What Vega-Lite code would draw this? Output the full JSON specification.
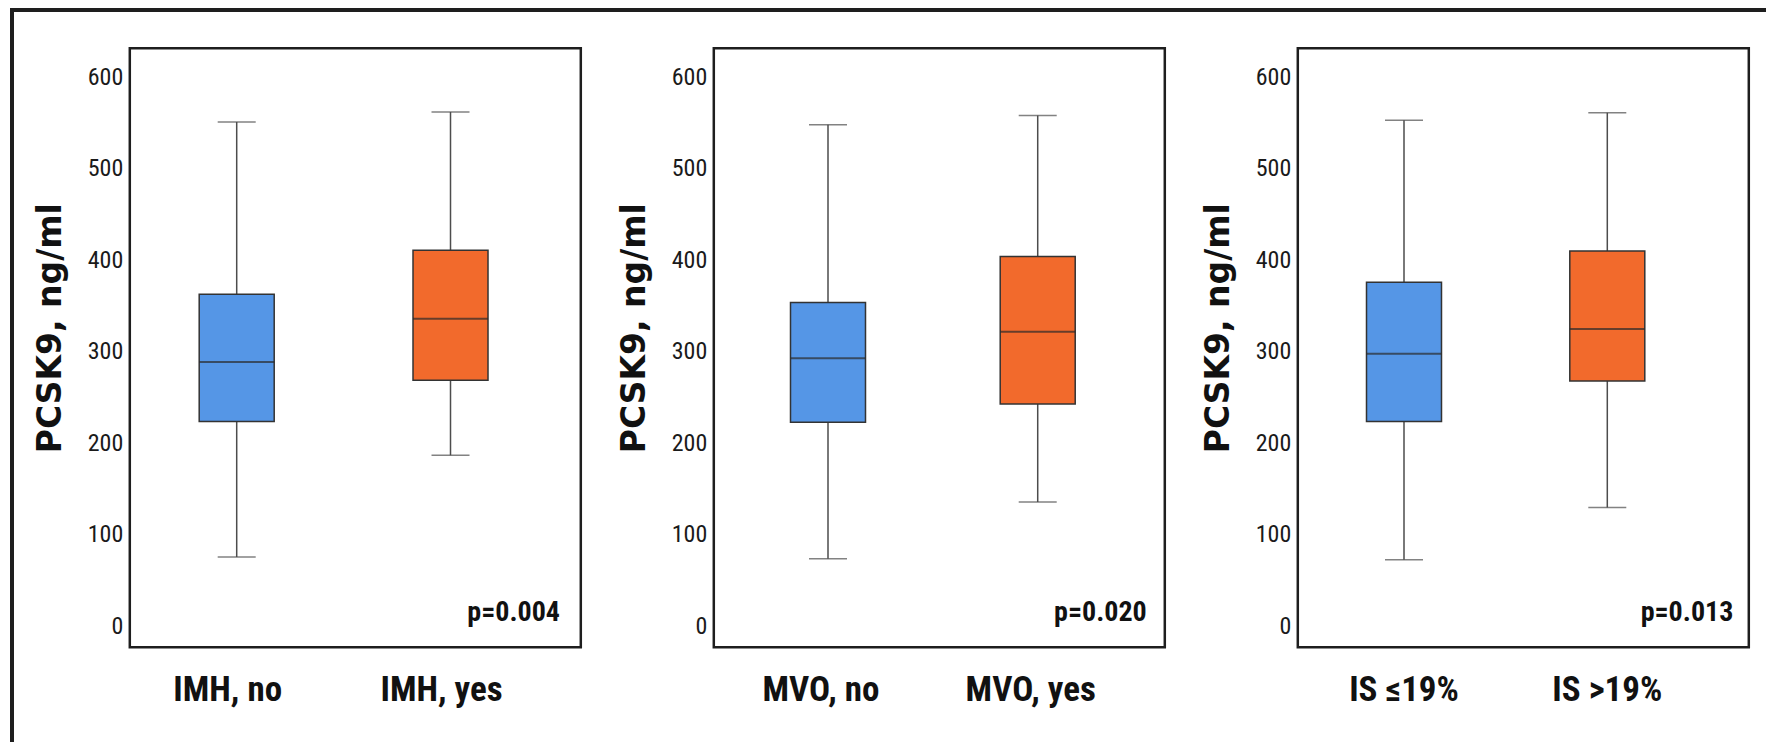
{
  "$schema": "https://vega.github.io/schema/vega-lite/v6.json",
  "padding": {"left": 9.5, "top": 7.5, "right": 0, "bottom": 0},
  "autosize": {"type": "pad"},
  "background": "white",
  "config": {
    "view": {"stroke": "#1e1e1e", "strokeWidth": 2.5},
    "axisY": {"domain": false, "ticks": false, "tickSize": 0, "grid": false, "labelFont": "Roboto Condensed, Liberation Sans Narrow, Roboto", "labelFontSize": 24, "labelColor": "#1a1a1a", "labelPadding": 7, "titleFont": "DejaVu Sans", "titleFontSize": 33, "titleFontWeight": "bold", "titleColor": "#111111", "titleAlign": "center", "titleBaseline": "middle", "titleAngle": -90},
    "axisX": {"domain": false, "ticks": false, "tickSize": 0, "grid": false, "labelAngle": 0, "labelFont": "Roboto Condensed, Liberation Sans Narrow, Roboto", "labelFontSize": 35, "labelFontWeight": "bold", "labelColor": "#111111", "labelPadding": 25.5}
  },
  "datasets": {
    "boxes": [
      {"panel": 1, "group": "IMH, no", "status": "no", "lo": 76, "q1": 224, "median": 289, "q3": 363, "hi": 551, "p": ""},
      {"panel": 1, "group": "IMH, yes", "status": "yes", "lo": 187, "q1": 269, "median": 336, "q3": 411, "hi": 562, "p": "p=0.004"},
      {"panel": 2, "group": "MVO, no", "status": "no", "lo": 74, "q1": 223, "median": 293, "q3": 354, "hi": 548, "p": ""},
      {"panel": 2, "group": "MVO, yes", "status": "yes", "lo": 136, "q1": 243, "median": 322, "q3": 404, "hi": 558, "p": "p=0.020"},
      {"panel": 3, "group": "IS ≤19%", "status": "no", "lo": 73, "q1": 224, "median": 298, "q3": 376, "hi": 553, "p": ""},
      {"panel": 3, "group": "IS >19%", "status": "yes", "lo": 130, "q1": 268, "median": 325, "q3": 410, "hi": 561, "p": "p=0.013"}
    ]
  },
  "spacing": 0,
  "bounds": "flush",
  "hconcat": [
    {
      "width": 1, "height": 731.5,
      "data": {"values": [{}]},
      "mark": {"type": "rule", "opacity": 0},
      "encoding": {},
      "view": {"stroke": "#1e1e1e", "strokeWidth": 3}
    },
    {
      "spacing": 37.7,
      "bounds": "flush",
      "vconcat": [
        {
          "width": 1752.5, "height": 1,
          "data": {"values": [{}]},
          "mark": {"type": "rule", "opacity": 0},
          "encoding": {},
          "view": {"stroke": "#1e1e1e", "strokeWidth": 3}
        },
        {
          "spacing": 116.3,
          "bounds": "flush",
          "hconcat": [
            {
              "width": 1, "height": 1,
              "data": {"values": [{}]},
              "mark": {"type": "rule", "opacity": 0},
              "encoding": {},
              "view": {"stroke": null}
            },
            {
              "spacing": 133,
              "bounds": "flush",
              "resolve": {"scale": {"x": "independent", "y": "independent", "color": "independent"}},
              "hconcat": [
                {
                  "width": 451, "height": 599,
                  "data": {"name": "boxes"},
                  "transform": [{"filter": "datum.panel === 1"}],
                  "encoding": {
                    "x": {"field": "group", "type": "nominal", "sort": null, "title": null, "axis": {"labelOffset": -9}, "scale": {"paddingInner": 0, "paddingOuter": 0.0547, "align": 0}}
                  },
                  "layer": [
                    {"mark": {"type": "rule", "stroke": "#4d4d4d", "strokeWidth": 1.5},
                     "encoding": {"y": {"field": "lo", "type": "quantitative", "title": "PCSK9, ng/ml", "scale": {"domain": [-22.6, 631.6], "nice": false, "zero": false}, "axis": {"values": [0, 100, 200, 300, 400, 500, 600], "titleX": -79.5, "titleY": 279.5}}, "y2": {"field": "hi"}}},
                    {"mark": {"type": "tick", "color": "#4d4d4d", "size": 38, "thickness": 1.5},
                     "encoding": {"y": {"field": "hi", "type": "quantitative", "title": "PCSK9, ng/ml"}}},
                    {"mark": {"type": "tick", "color": "#4d4d4d", "size": 38, "thickness": 1.5},
                     "encoding": {"y": {"field": "lo", "type": "quantitative", "title": "PCSK9, ng/ml"}}},
                    {"mark": {"type": "bar", "width": 75, "stroke": "#333333", "strokeWidth": 1.5},
                     "encoding": {"y": {"field": "q1", "type": "quantitative", "title": "PCSK9, ng/ml"}, "y2": {"field": "q3"},
                       "color": {"field": "status", "type": "nominal", "scale": {"domain": ["no", "yes"], "range": ["#5596E6", "#F26A2C"]}, "legend": null}}},
                    {"mark": {"type": "tick", "color": "#2b2b2b", "size": 75, "thickness": 2},
                     "encoding": {"y": {"field": "median", "type": "quantitative", "title": "PCSK9, ng/ml"}}},
                    {"mark": {"type": "text", "align": "right", "baseline": "alphabetic", "font": "Roboto Condensed, Liberation Sans Narrow, Roboto", "fontSize": 28, "fontWeight": "bold", "color": "#111111"},
                     "encoding": {"x": {"field": "group", "type": "nominal", "sort": null, "bandPosition": 1.012}, "y": {"datum": 6.5, "type": "quantitative"}, "text": {"field": "p"}}}
                  ]
                },
                {
                  "width": 451, "height": 599,
                  "data": {"name": "boxes"},
                  "transform": [{"filter": "datum.panel === 2"}],
                  "encoding": {
                    "x": {"field": "group", "type": "nominal", "sort": null, "title": null, "axis": {"labelOffset": -7}, "scale": {"paddingInner": 0, "paddingOuter": 0.0753, "align": 0.296}}
                  },
                  "layer": [
                    {"mark": {"type": "rule", "stroke": "#4d4d4d", "strokeWidth": 1.5},
                     "encoding": {"y": {"field": "lo", "type": "quantitative", "title": "PCSK9, ng/ml", "scale": {"domain": [-22.6, 631.6], "nice": false, "zero": false}, "axis": {"values": [0, 100, 200, 300, 400, 500, 600], "titleX": -79.5, "titleY": 279.5}}, "y2": {"field": "hi"}}},
                    {"mark": {"type": "tick", "color": "#4d4d4d", "size": 38, "thickness": 1.5},
                     "encoding": {"y": {"field": "hi", "type": "quantitative", "title": "PCSK9, ng/ml"}}},
                    {"mark": {"type": "tick", "color": "#4d4d4d", "size": 38, "thickness": 1.5},
                     "encoding": {"y": {"field": "lo", "type": "quantitative", "title": "PCSK9, ng/ml"}}},
                    {"mark": {"type": "bar", "width": 75, "stroke": "#333333", "strokeWidth": 1.5},
                     "encoding": {"y": {"field": "q1", "type": "quantitative", "title": "PCSK9, ng/ml"}, "y2": {"field": "q3"},
                       "color": {"field": "status", "type": "nominal", "scale": {"domain": ["no", "yes"], "range": ["#5596E6", "#F26A2C"]}, "legend": null}}},
                    {"mark": {"type": "tick", "color": "#2b2b2b", "size": 75, "thickness": 2},
                     "encoding": {"y": {"field": "median", "type": "quantitative", "title": "PCSK9, ng/ml"}}},
                    {"mark": {"type": "text", "align": "right", "baseline": "alphabetic", "font": "Roboto Condensed, Liberation Sans Narrow, Roboto", "fontSize": 28, "fontWeight": "bold", "color": "#111111"},
                     "encoding": {"x": {"field": "group", "type": "nominal", "sort": null, "bandPosition": 1.02}, "y": {"datum": 6.5, "type": "quantitative"}, "text": {"field": "p"}}}
                  ]
                },
                {
                  "width": 451, "height": 599,
                  "data": {"name": "boxes"},
                  "transform": [{"filter": "datum.panel === 3"}],
                  "encoding": {
                    "x": {"field": "group", "type": "nominal", "sort": null, "title": null, "scale": {"paddingInner": 0, "paddingOuter": 0.1092, "align": 0.1025}}
                  },
                  "layer": [
                    {"mark": {"type": "rule", "stroke": "#4d4d4d", "strokeWidth": 1.5},
                     "encoding": {"y": {"field": "lo", "type": "quantitative", "title": "PCSK9, ng/ml", "scale": {"domain": [-22.6, 631.6], "nice": false, "zero": false}, "axis": {"values": [0, 100, 200, 300, 400, 500, 600], "titleX": -79.5, "titleY": 279.5}}, "y2": {"field": "hi"}}},
                    {"mark": {"type": "tick", "color": "#4d4d4d", "size": 38, "thickness": 1.5},
                     "encoding": {"y": {"field": "hi", "type": "quantitative", "title": "PCSK9, ng/ml"}}},
                    {"mark": {"type": "tick", "color": "#4d4d4d", "size": 38, "thickness": 1.5},
                     "encoding": {"y": {"field": "lo", "type": "quantitative", "title": "PCSK9, ng/ml"}}},
                    {"mark": {"type": "bar", "width": 75, "stroke": "#333333", "strokeWidth": 1.5},
                     "encoding": {"y": {"field": "q1", "type": "quantitative", "title": "PCSK9, ng/ml"}, "y2": {"field": "q3"},
                       "color": {"field": "status", "type": "nominal", "scale": {"domain": ["no", "yes"], "range": ["#5596E6", "#F26A2C"]}, "legend": null}}},
                    {"mark": {"type": "tick", "color": "#2b2b2b", "size": 75, "thickness": 2},
                     "encoding": {"y": {"field": "median", "type": "quantitative", "title": "PCSK9, ng/ml"}}},
                    {"mark": {"type": "text", "align": "right", "baseline": "alphabetic", "font": "Roboto Condensed, Liberation Sans Narrow, Roboto", "fontSize": 28, "fontWeight": "bold", "color": "#111111"},
                     "encoding": {"x": {"field": "group", "type": "nominal", "sort": null, "bandPosition": 1.12}, "y": {"datum": 6.5, "type": "quantitative"}, "text": {"field": "p"}}}
                  ]
                }
              ]
            }
          ]
        }
      ]
    }
  ]
}
